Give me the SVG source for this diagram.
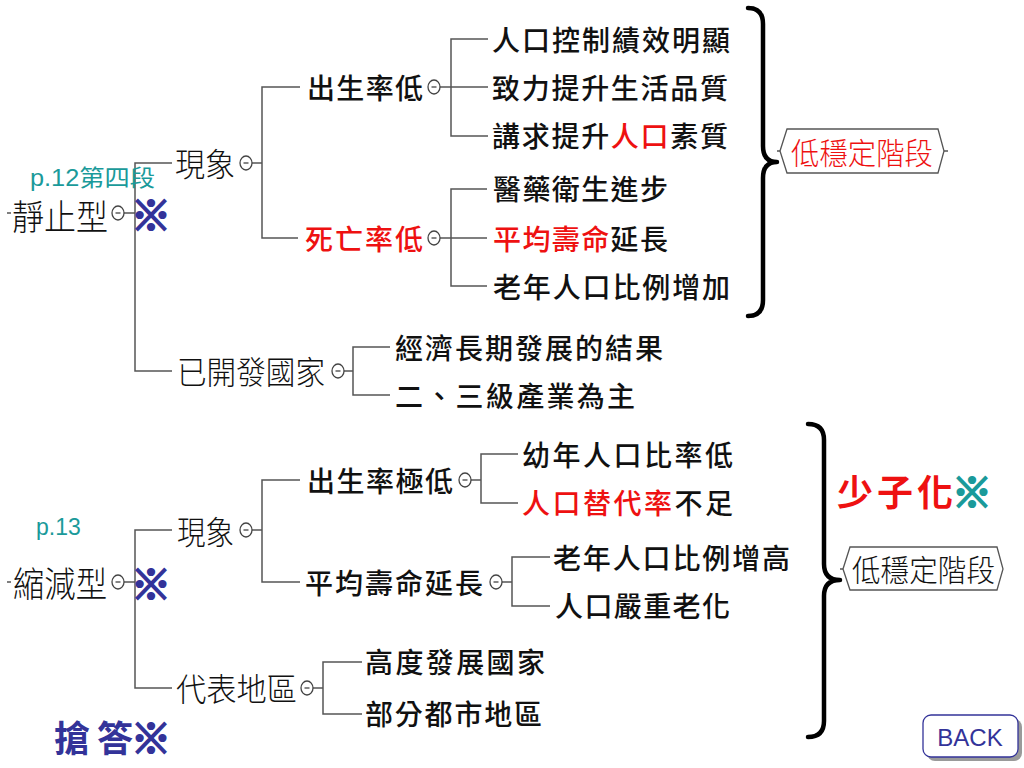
<svg xmlns="http://www.w3.org/2000/svg" width="1024" height="768" viewBox="0 0 1024 768">
<style>
.bg{fill:#ffffff}
.c{fill:none;stroke:#555555;stroke-width:1.5}
.tg{fill:#ffffff;stroke:#444444;stroke-width:1.3}
.tgd{stroke:#444444;stroke-width:1.3}
.m{font-family:"Noto Sans CJK TC","Noto Sans CJK SC",sans-serif;font-weight:300;font-size:32px;fill:#111111;dominant-baseline:central}
.k{font-family:"Noto Sans CJK TC","Noto Sans CJK SC",sans-serif;font-weight:500;font-size:28px;fill:#111111;dominant-baseline:central}
.r{fill:#ee1111}
.note{font-family:"Liberation Sans","Noto Sans CJK TC",sans-serif;font-size:23px;fill:#1a9a9a}
.star{font-family:"Noto Sans CJK TC","Noto Sans CJK SC",sans-serif;font-weight:700;font-size:40px;fill:#333399;stroke:#333399;stroke-width:2.2;dominant-baseline:central}
.brace{fill:none;stroke:#000000;stroke-width:4.5;stroke-linecap:round;stroke-linejoin:round}
.hex{fill:#ffffff;stroke:#555555;stroke-width:1.3}
</style>
<defs>
<g id="tog"><ellipse cx="0" cy="0" rx="6" ry="7" class="tg"/><line x1="-2.5" y1="0" x2="2.5" y2="0" class="tgd"/></g>
</defs>
<rect class="bg" x="0" y="0" width="1024" height="768"/>

<g id="connectors">
<path class="c" d="M7,213 H11"/>
<path class="c" d="M124,213 H135"/>
<path class="c" d="M172,163 H135 V371 H172"/>
<path class="c" d="M252,163 H262"/>
<path class="c" d="M300,87 H262 V238 H298"/>
<path class="c" d="M440,87 H488"/>
<path class="c" d="M488,39 H451 V136 H488"/>
<path class="c" d="M440,238 H487"/>
<path class="c" d="M487,189 H451 V286 H487"/>
<path class="c" d="M344,371 H353"/>
<path class="c" d="M390,347 H353 V395 H390"/>
<path class="c" d="M7,582 H11"/>
<path class="c" d="M124,582 H135"/>
<path class="c" d="M172,530 H135 V688 H172"/>
<path class="c" d="M252,530 H262"/>
<path class="c" d="M300,480 H262 V582 H300"/>
<path class="c" d="M471,480 H481"/>
<path class="c" d="M518,454 H481 V503 H518"/>
<path class="c" d="M502,582 H512"/>
<path class="c" d="M550,557 H512 V606 H550"/>
<path class="c" d="M313,688 H323"/>
<path class="c" d="M362,662 H323 V714 H362"/>
<path class="c" d="M777,151 H781"/>
<path class="c" d="M944,151 H948"/>
<path class="c" d="M840,569 H843"/>
</g>

<g id="n-jingzhi">
<text class="m" x="12" y="214" style="font-size:35px" textLength="96" lengthAdjust="spacingAndGlyphs">靜止型</text>
<use href="#tog" x="118" y="213"/>
<text class="star" x="151" y="213" text-anchor="middle">※</text>
</g>
<g id="n-p12"><text class="note" x="30" y="186" textLength="125" lengthAdjust="spacingAndGlyphs">p.12<tspan font-family="Noto Sans CJK TC,sans-serif">第四段</tspan></text></g>

<g id="n-xianxiang1">
<text class="m" x="175" y="162" textLength="60" lengthAdjust="spacingAndGlyphs">現象</text>
<use href="#tog" x="246" y="163"/>
</g>
<g id="n-birth1">
<text class="k" x="307" y="87" textLength="116" lengthAdjust="spacing">出生率低</text>
<use href="#tog" x="434" y="87"/>
</g>
<g id="n-l1"><text class="k" x="492" y="39" textLength="238" lengthAdjust="spacing">人口控制績效明顯</text></g>
<g id="n-l2"><text class="k" x="492" y="87" textLength="236" lengthAdjust="spacing">致力提升生活品質</text></g>
<g id="n-l3"><text class="k" x="492" y="135" textLength="236" lengthAdjust="spacing">講求提升<tspan class="r">人口</tspan>素質</text></g>
<g id="n-death1">
<text class="k r" x="305" y="238" textLength="118" lengthAdjust="spacing">死亡率低</text>
<use href="#tog" x="434" y="238"/>
</g>
<g id="n-l4"><text class="k" x="493" y="188" textLength="175" lengthAdjust="spacing">醫藥衛生進步</text></g>
<g id="n-l5"><text class="k" x="493" y="238" textLength="175" lengthAdjust="spacing"><tspan class="r">平均壽命</tspan>延長</text></g>
<g id="n-l6"><text class="k" x="493" y="286" textLength="237" lengthAdjust="spacing">老年人口比例增加</text></g>
<g id="n-developed">
<text class="m" x="177" y="370" textLength="148" lengthAdjust="spacingAndGlyphs">已開發國家</text>
<use href="#tog" x="338" y="371"/>
</g>
<g id="n-l7"><text class="k" x="395" y="347" textLength="268" lengthAdjust="spacing">經濟長期發展的結果</text></g>
<g id="n-l8"><text class="k" x="395" y="395" textLength="240" lengthAdjust="spacing">二、三級產業為主</text></g>

<g id="n-brace1"><path class="brace" d="M748,8 Q763,8 763,24 L763,146 Q763,162 777,162 Q763,162 763,178 L763,300 Q763,316 748,316"/></g>
<g id="n-hex1">
<polygon class="hex" points="780,151 787,129 938,129 944,151 938,173 787,173"/>
<text class="m r" x="791" y="151" style="font-size:30px" textLength="142" lengthAdjust="spacingAndGlyphs">低穩定階段</text>
</g>

<g id="n-suojian">
<text class="m" x="13" y="581" style="font-size:35px" textLength="94" lengthAdjust="spacingAndGlyphs">縮減型</text>
<use href="#tog" x="118" y="582"/>
<text class="star" x="151" y="582" text-anchor="middle">※</text>
</g>
<g id="n-p13"><text class="note" x="36" y="535">p.13</text></g>
<g id="n-xianxiang2">
<text class="m" x="177" y="530" textLength="57" lengthAdjust="spacingAndGlyphs">現象</text>
<use href="#tog" x="246" y="530"/>
</g>
<g id="n-birth2">
<text class="k" x="307" y="480" textLength="146" lengthAdjust="spacing">出生率極低</text>
<use href="#tog" x="465" y="480"/>
</g>
<g id="n-l9"><text class="k" x="522" y="454" textLength="211" lengthAdjust="spacing">幼年人口比率低</text></g>
<g id="n-l10"><text class="k" x="522" y="502" textLength="211" lengthAdjust="spacing"><tspan class="r">人口替代率</tspan>不足</text></g>
<g id="n-life2">
<text class="k" x="305" y="582" textLength="178" lengthAdjust="spacing">平均壽命延長</text>
<use href="#tog" x="496" y="582"/>
</g>
<g id="n-l11"><text class="k" x="553" y="557" textLength="237" lengthAdjust="spacing">老年人口比例增高</text></g>
<g id="n-l12"><text class="k" x="555" y="605" textLength="175" lengthAdjust="spacing">人口嚴重老化</text></g>
<g id="n-region">
<text class="m" x="176" y="687" textLength="121" lengthAdjust="spacingAndGlyphs">代表地區</text>
<use href="#tog" x="307" y="688"/>
</g>
<g id="n-l13"><text class="k" x="365" y="661" textLength="180" lengthAdjust="spacing">高度發展國家</text></g>
<g id="n-l14"><text class="k" x="365" y="713" textLength="177" lengthAdjust="spacing">部分都市地區</text></g>

<g id="n-brace2"><path class="brace" d="M808,424 Q824,424 824,440 L824,564 Q824,580 840,580 Q824,580 824,596 L824,721 Q824,737 808,737"/></g>
<g id="n-shaozihua">
<text class="k r" x="837" y="490" style="font-size:36px;font-weight:700" textLength="116" lengthAdjust="spacing">少子化</text>
<text class="star" x="972" y="490" text-anchor="middle" style="fill:#1a9a9a;stroke:#1a9a9a">※</text>
</g>
<g id="n-hex2">
<polygon class="hex" points="843,569 850,547 997,547 1003,569 997,590 850,590"/>
<text class="m" x="852" y="568" style="font-size:30px" textLength="143" lengthAdjust="spacingAndGlyphs">低穩定階段</text>
</g>
<g id="n-qiangda">
<text class="k" x="54" y="736" style="font-size:36px;font-weight:700;fill:#333399" textLength="79" lengthAdjust="spacing">搶答</text>
<text class="star" x="151" y="736" text-anchor="middle">※</text>
</g>
<g id="n-back">
<rect x="927" y="719" width="95" height="42" rx="8" fill="#9a9a9a"/>
<rect x="923" y="715" width="95" height="42" rx="8" fill="#ffffff" stroke="#333399" stroke-width="1.3"/>
<text x="970" y="746" text-anchor="middle" font-family="Liberation Sans,Arial,sans-serif" font-size="24" fill="#333399">BACK</text>
</g>
</svg>
